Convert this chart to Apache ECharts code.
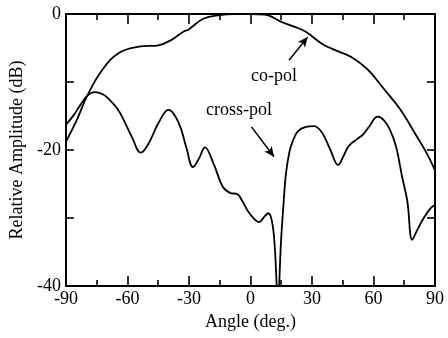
<!DOCTYPE html>
<html>
<head>
<meta charset="utf-8">
<script src="https://cdn.jsdelivr.net/npm/echarts@6/dist/echarts.min.js"></script>
<style>
  html, body { margin: 0; padding: 0; background: #fff; }
  #main { width: 448px; height: 338px; }
</style>
</head>
<body>
<div id="main"></div>
<script>
// co-pol pattern (angle in deg, level in dB)
var coAngle = [-90, -85, -79.4, -72.2, -64, -54.4, -44.8, -38.5, -32.7, -30.3, -23, -15, -8, 0, 7, 15.4, 21.6, 27, 35, 42.8, 49, 57.3, 65, 73, 81.3, 86, 90];
var coLevel = [-18.8, -15.8, -11.9, -8.2, -5.7, -4.8, -4.6, -3.8, -2.6, -2.3, -0.7, -0.15, 0, 0, -0.1, -1.2, -1.9, -2.6, -4.4, -5.5, -6.3, -8.2, -11.0, -14.0, -18.1, -20.5, -23.0];

// cross-pol pattern
var xpAngle = [-90, -86, -83, -79.5, -76, -72, -68.8, -65, -62.6, -57.8, -53.4, -49.6, -44.8, -40, -35, -31.3, -28, -25, -22.2, -18, -13.5, -10, -6.3, -4, -0.5, 4.3, 6.8, 8.7, 10.5, 11.8, 12.8, 13.4, 14.0, 14.9, 16, 17.3, 19, 20.5, 23, 27, 31, 35, 39, 42.8, 45.5, 48, 52, 55, 58, 62, 65, 68, 71, 74, 76.5, 78.9, 81.3, 84.7, 88, 90];
var xpLevel = [-16.3, -14.8, -13.4, -12, -11.5, -11.8, -12.6, -13.9, -15.1, -18.1, -20.4, -19, -16, -14.1, -16, -19.6, -22.5, -21.2, -19.6, -22, -25.4, -26.3, -26.5, -27.5, -29.3, -30.6, -29.8, -29.3, -30.5, -34, -40, -44, -40, -33.5, -28.5, -23.5, -20.3, -18.8, -17.3, -16.6, -16.5, -17.5, -20, -22.2, -20.8, -19.4, -18.4, -17.7, -16.5, -15.1, -15.6, -17, -19.5, -24, -27.5, -33.2, -31.8, -29.9, -28.5, -28.1];

var yLabels = [0, -20, -40];

function pairs(a, b) {
    var out = [];
    for (var i = 0; i < a.length; i++) {
        out.push([a[i], b[i]]);
    }
    return out;
}

var font = 'Liberation Serif';
var black = '#000';

var myChart = echarts.init(document.getElementById('main'));

function xAxisCfg(pos, showLabel) {
    return {
        type: 'value',
        position: pos,
        min: -90,
        max: 90,
        interval: 30,
        axisLine: {show: true, onZero: false, lineStyle: {color: black, width: 2}},
        axisTick: {show: true, inside: true, length: 10, lineStyle: {color: black, width: 1.6}},
        minorTick: {show: true, splitNumber: 2, length: 6, lineStyle: {color: black, width: 1.6}},
        splitLine: {show: false},
        axisLabel: {show: showLabel, color: black, fontFamily: font, fontSize: 18, margin: 4},
        name: showLabel ? 'Angle (deg.)' : '',
        nameLocation: 'middle',
        nameGap: 18,
        nameTextStyle: {color: black, fontFamily: font, fontSize: 18}
    };
}

function yAxisCfg(pos, showLabel) {
    return {
        type: 'value',
        position: pos,
        min: -40,
        max: 0,
        interval: 10,
        axisLine: {show: true, onZero: false, lineStyle: {color: black, width: 2}},
        axisTick: {show: true, inside: true, length: 8, lineStyle: {color: black, width: 1.6}},
        splitLine: {show: false},
        axisLabel: {
            show: showLabel, color: black, fontFamily: font, fontSize: 18, margin: 5,
            formatter: function (v) {
                return yLabels.indexOf(v) >= 0 ? String(v) : '';
            }
        },
        name: showLabel ? 'Relative Amplitude (dB)' : '',
        nameLocation: 'middle',
        nameGap: 21,
        nameTextStyle: {color: black, fontFamily: font, fontSize: 18}
    };
}

var arrowLine = {
    silent: true,
    symbol: ['none', 'arrow'],
    symbolSize: [7, 10],
    lineStyle: {color: black, width: 1.5, type: 'solid'},
    label: {show: false}
};

var option = {
    animation: false,
    backgroundColor: '#fff',
    grid: {left: 61, right: 13, top: 14, bottom: 52},
    xAxis: [xAxisCfg('bottom', true), xAxisCfg('top', false)],
    yAxis: [yAxisCfg('left', true), yAxisCfg('right', false)],
    series: [
        {
            name: 'co-pol',
            type: 'line',
            data: pairs(coAngle, coLevel),
            smooth: 0.4,
            showSymbol: false,
            clip: true,
            lineStyle: {color: black, width: 1.8},
            markLine: Object.assign({}, arrowLine, {
                data: [[{coord: [18.8, -6.8]}, {coord: [27.9, -3.4]}]]
            })
        },
        {
            name: 'cross-pol',
            type: 'line',
            data: pairs(xpAngle, xpLevel),
            smooth: 0.4,
            showSymbol: false,
            clip: true,
            lineStyle: {color: black, width: 1.8},
            markLine: Object.assign({}, arrowLine, {
                data: [[{coord: [0.5, -16.6]}, {coord: [11.5, -21.0]}]]
            })
        }
    ],
    graphic: [
        {
            type: 'text', left: 251, top: 67,
            style: {text: 'co-pol', fill: black, font: '18px "Liberation Serif"'}
        },
        {
            type: 'text', left: 206, top: 101,
            style: {text: 'cross-pol', fill: black, font: '18px "Liberation Serif"'}
        }
    ]
};

myChart.setOption(option);
window.onresize = function () {
    myChart.resize();
};
</script>
</body>
</html>
